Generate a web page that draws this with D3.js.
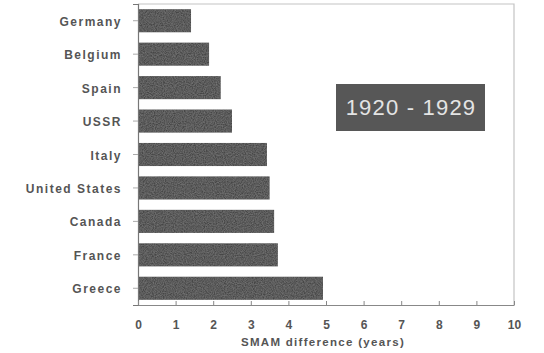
<!DOCTYPE html>
<html><head><meta charset="utf-8">
<script src="https://cdn.jsdelivr.net/npm/d3@7"></script>
<style>body{margin:0;background:#fff}svg{display:block}</style>
</head><body>
<script>
const countries = ["Germany","Belgium","Spain","USSR","Italy","United States","Canada","France","Greece"];
const values = [1.41, 1.89, 2.2, 2.5, 3.43, 3.5, 3.62, 3.72, 4.92];
const xTicks = [0,1,2,3,4,5,6,7,8,9,10];
const periodLabel = "1920 - 1929";
const xTitle = "SMAM difference (years)";

(function () {
const W = 544, H = 353;
const mL = 138, mR = 514, mT = 4, mB = 305;
const FONT = "Liberation Sans, Arial, sans-serif";
const svg = d3.select("body").append("svg").attr("width", W).attr("height", H);

const defs = svg.append("defs");
const f = defs.append("filter").attr("id", "grain").attr("x", 0).attr("y", 0).attr("width", 1).attr("height", 1);
f.append("feTurbulence").attr("type", "fractalNoise").attr("baseFrequency", 0.9).attr("numOctaves", 2).attr("seed", 3).attr("result", "n");
f.append("feColorMatrix").attr("in", "n").attr("type", "matrix")
  .attr("values", "0 0 0 0 0.55  0 0 0 0 0.55  0 0 0 0 0.55  0 0 0 0.35 -0.08").attr("result", "g");
f.append("feComposite").attr("in", "g").attr("in2", "SourceGraphic").attr("operator", "in").attr("result", "gc");
f.append("feMerge").call(m => { m.append("feMergeNode").attr("in", "SourceGraphic"); m.append("feMergeNode").attr("in", "gc"); });

const x = d3.scaleLinear().domain([0, 10]).range([mL, mR]);
const y = d3.scaleBand().domain(countries).range([mT, mB]).paddingInner(0.31).paddingOuter(0.155);

// frame (top and right)
svg.append("path").attr("d", `M${mL},${mT}H${mR}V${mB}`)
  .attr("fill", "none").attr("stroke", "#c4c4c4").attr("stroke-width", 1.2);

// bars
svg.append("g").selectAll("rect").data(countries).join("rect")
  .attr("x", x(0)).attr("y", d => y(d))
  .attr("width", (d, i) => x(values[i]) - x(0))
  .attr("height", y.bandwidth())
  .attr("fill", "#474747")
  .attr("filter", "url(#grain)");

// y axis
const ya = svg.append("g").attr("transform", `translate(${mL},0)`)
  .call(d3.axisLeft(y).tickSize(5).tickPadding(11));
ya.select(".domain").attr("stroke", "#777").attr("stroke-width", 1.2);
ya.selectAll(".tick line").attr("stroke", "#aaa");
ya.selectAll("text").attr("font-family", FONT)
  .attr("font-size", 12).attr("font-weight", "bold").attr("fill", "#555")
  .attr("letter-spacing", "1.5px").attr("dy", "0.42em");

// x axis
const xa = svg.append("g").attr("transform", `translate(0,${mB})`)
  .call(d3.axisBottom(x).tickValues(xTicks).tickSize(-4).tickPadding(15).tickSizeOuter(0));
xa.select(".domain").attr("stroke", "#888").attr("stroke-width", 1.2);
xa.selectAll(".tick line").attr("stroke", "#888");
xa.selectAll("text").attr("font-family", FONT)
  .attr("font-size", 12).attr("font-weight", "bold").attr("fill", "#555");

svg.append("text").attr("x", 323).attr("y", 346).attr("text-anchor", "middle")
  .attr("font-family", FONT).attr("letter-spacing", "1.3px")
  .attr("font-size", 11.5).attr("font-weight", "bold").attr("fill", "#555")
  .text(xTitle);

// period box
svg.append("rect").attr("x", 336).attr("y", 84).attr("width", 149).attr("height", 47).attr("fill", "#575757");
svg.append("text").attr("x", 411).attr("y", 115).attr("text-anchor", "middle")
  .attr("font-family", FONT).attr("letter-spacing", "1.2px")
  .attr("font-size", 22).attr("fill", "#e4e4e4").text(periodLabel);
})();
</script>
</body></html>
